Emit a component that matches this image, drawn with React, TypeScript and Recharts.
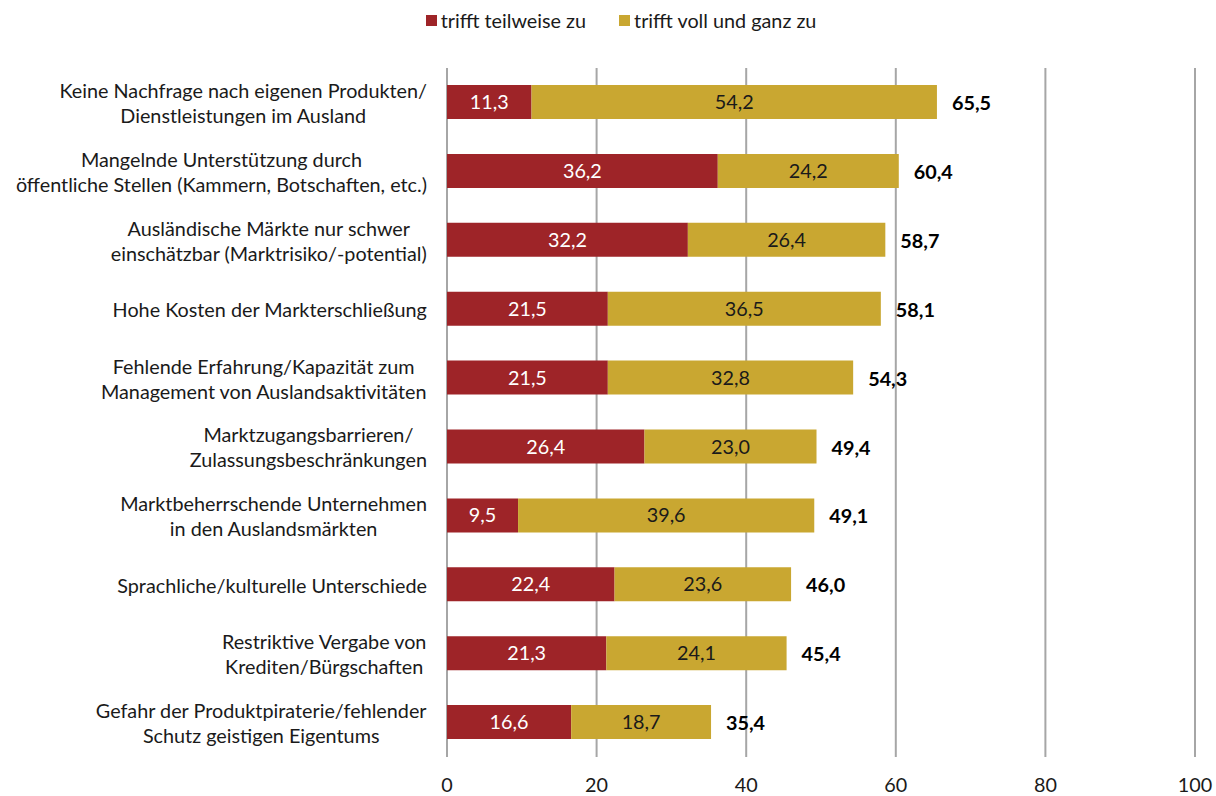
import React from "react";
import { BarChart, Bar, XAxis, YAxis, CartesianGrid, LabelList } from "recharts";

const categories: string[][] = [
  ["Keine Nachfrage nach eigenen Produkten/", "Dienstleistungen im Ausland"],
  ["Mangelnde Unterstützung durch", "öffentliche Stellen (Kammern, Botschaften, etc.)"],
  ["Ausländische Märkte nur schwer", "einschätzbar (Marktrisiko/-potential)"],
  ["Hohe Kosten der Markterschließung"],
  ["Fehlende Erfahrung/Kapazität zum", "Management von Auslandsaktivitäten"],
  ["Marktzugangsbarrieren/", "Zulassungsbeschränkungen"],
  ["Marktbeherrschende Unternehmen", "in den Auslandsmärkten"],
  ["Sprachliche/kulturelle Unterschiede"],
  ["Restriktive Vergabe von", "Krediten/Bürgschaften"],
  ["Gefahr der Produktpiraterie/fehlender", "Schutz geistigen Eigentums"],
];
const teilweise = [11.3, 36.2, 32.2, 21.5, 21.5, 26.4, 9.5, 22.4, 21.3, 16.6];
const vollGanz = [54.2, 24.2, 26.4, 36.5, 32.8, 23.0, 39.6, 23.6, 24.1, 18.7];
const totals = [65.5, 60.4, 58.7, 58.1, 54.3, 49.4, 49.1, 46.0, 45.4, 35.4];
const xTicks = [0, 20, 40, 60, 80, 100];
const seriesNames = ["trifft teilweise zu", "trifft voll und ganz zu"];
const seriesColors = ["#9e2428", "#c9a731"];

const FONT = "Lato, 'Open Sans', sans-serif";
const FS = 19.8;

const data = categories.map((lines, i) => ({
  name: lines.join("\n"),
  a: teilweise[i],
  b: vollGanz[i],
  total: totals[i],
}));

const fmt = (v: any) => Number(v).toFixed(1).replace(".", ",");

let ctx: CanvasRenderingContext2D | null = null;
const measure = (s: string) => {
  if (!ctx) {
    const c = document.createElement("canvas");
    ctx = c.getContext("2d");
  }
  if (!ctx) return s.length * 9.5;
  ctx.font = `${FS}px Lato`;
  return ctx.measureText(s).width;
};

const YTick = (props: any) => {
  const { x, y, payload } = props;
  const lines = String(payload.value).split("\n");
  const maxW = Math.max(...lines.map(measure));
  const right = x - 12;
  const cx = right - maxW / 2;
  const lh = 25;
  const start = y - ((lines.length - 1) * lh) / 2;
  return (
    <text textAnchor="middle" fontFamily={FONT} fontSize={FS} fill="#1a1a1a">
      {lines.map((l, i) => (
        <tspan key={i} x={cx} y={start + i * lh} dominantBaseline="central">
          {l}
        </tspan>
      ))}
    </text>
  );
};

const XTick = (props: any) => {
  const { x, y, payload } = props;
  return (
    <text x={x} y={y + 27} textAnchor="middle" fontFamily={FONT} fontSize={FS} fill="#1a1a1a">
      {payload.value}
    </text>
  );
};

const TotalLabel = (props: any) => {
  const { x, y, width, height, value } = props;
  return (
    <text
      x={Number(x) + Number(width) + 15}
      y={Number(y) + Number(height) / 2}
      dominantBaseline="central"
      fontFamily={FONT}
      fontSize={FS}
      fontWeight="bold"
      fill="#000"
    >
      {fmt(value)}
    </text>
  );
};

export default function App() {
  return (
    <div
      style={{
        position: "fixed",
        top: 0,
        left: 0,
        width: 1216,
        height: 796,
        overflow: "hidden",
        background: "#fff",
        fontFamily: FONT,
      }}
    >
      <div style={{ position: "absolute", left: 8, top: 8, width: 1208, height: 788 }}>
        <div
          style={{
            position: "absolute",
            top: 0,
            left: 0,
            width: 1208,
            display: "flex",
            justifyContent: "center",
            gap: 33,
            fontSize: FS,
            color: "#1a1a1a",
            paddingLeft: 18,
            boxSizing: "border-box",
          }}
        >
          {seriesNames.map((n, i) => (
            <div key={n} style={{ display: "flex", alignItems: "center" }}>
              <span
                style={{
                  display: "inline-block",
                  width: 11,
                  height: 11,
                  background: seriesColors[i],
                  marginRight: 4,
                }}
              />
              <span>{n}</span>
            </div>
          ))}
        </div>
        <BarChart
          width={1208}
          height={788}
          data={data}
          layout="vertical"
          margin={{ top: 60, right: 21, bottom: 0, left: 0 }}
          barCategoryGap={0}
        >
          <CartesianGrid horizontal={false} vertical stroke="#a6a6a6" strokeWidth={2} />
          <XAxis
            type="number"
            domain={[0, 100]}
            ticks={xTicks}
            axisLine={false}
            tickLine={false}
            height={39}
            tick={<XTick />}
          />
          <YAxis
            type="category"
            dataKey="name"
            axisLine={false}
            tickLine={false}
            width={439}
            tick={<YTick />}
            interval={0}
          />
          <Bar dataKey="a" stackId="s" fill={seriesColors[0]} barSize={34} isAnimationActive={false}>
            <LabelList
              dataKey="a"
              position="center"
              fill="#ffffff"
              fontFamily={FONT}
              fontSize={FS}
              formatter={fmt}
            />
          </Bar>
          <Bar dataKey="b" stackId="s" fill={seriesColors[1]} barSize={34} isAnimationActive={false}>
            <LabelList
              dataKey="b"
              position="center"
              fill="#1a1a1a"
              fontFamily={FONT}
              fontSize={FS}
              formatter={fmt}
            />
            <LabelList dataKey="total" content={<TotalLabel />} />
          </Bar>
        </BarChart>
      </div>
    </div>
  );
}
